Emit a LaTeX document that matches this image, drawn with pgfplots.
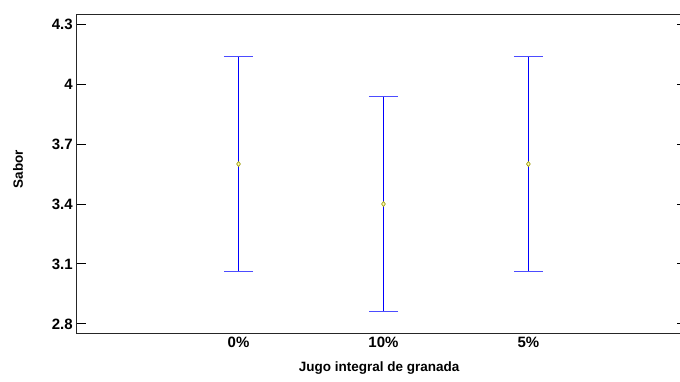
\documentclass[border=0pt]{standalone}
\usepackage{fontspec}
\setmainfont{Liberation Sans}
\usepackage{pgfplots}
\pgfplotsset{compat=1.18}
\definecolor{meanc}{RGB}{150,150,0}
\begin{document}
\begin{tikzpicture}
\begin{axis}[name=ax, scale only axis, width=604bp, height=319bp,
  xmin=-1.12, xmax=3.06, ymin=2.75, ymax=4.35,
  xtick={0,1,2}, xticklabels={0\%,10\%,5\%},
  ytick={2.8,3.1,3.4,3.7,4.0,4.3},
  yticklabels={2.8,3.1,3.4,3.7,4,4.3},
  ytick pos=left, tick align=inside, major tick length=10bp,
  x tick style={draw=none},
  axis line style={line width=1bp, black!85},
  tick style={line width=1bp, black},
  ticklabel style={font=\fontsize{15}{15}\selectfont\bfseries},
  every axis x label/.style={at={(axis description cs:0.5,-0.1066)}, anchor=center,
    font=\fontsize{13.5}{14}\selectfont\bfseries},
  every axis y label/.style={at={(axis description cs:-0.096,0.516)}, rotate=90, anchor=center,
    font=\fontsize{13.5}{14}\selectfont\bfseries},
  xlabel={Jugo integral de granada}, ylabel={Sabor},
]
\addplot[blue, only marks, mark=diamond*, mark size=2.5bp,
  mark options={draw=meanc, fill=yellow!30, line width=0.6bp},
  error bars/.cd, y dir=both, y explicit,
  error bar style={blue, line width=1bp},
  error mark options={rotate=90, mark size=14.5bp, blue!70, line width=1.2bp}]
  coordinates {
    (0,3.6) +- (0,0.537)
    (1,3.4) +- (0,0.537)
    (2,3.6) +- (0,0.537)
  };
\end{axis}
\begin{axis}[scale only axis, width=604bp, height=319bp,
  at={(ax.south west)}, anchor=south west,
  xmin=-1.12, xmax=3.06, ymin=2.75, ymax=4.35,
  hide x axis, axis y line*=right,
  ytick={2.8,3.1,3.4,3.7,4.0,4.3}, yticklabels={},
  tick align=inside, major tick length=5bp,
  tick style={line width=1bp, black},
  axis line style={draw=none}]
\end{axis}
\pgfresetboundingbox
\path[use as bounding box] ([xshift=-76bp,yshift=-47bp]ax.south west) rectangle ([xshift=-2bp,yshift=14bp]ax.north east);
\end{tikzpicture}
\end{document}
